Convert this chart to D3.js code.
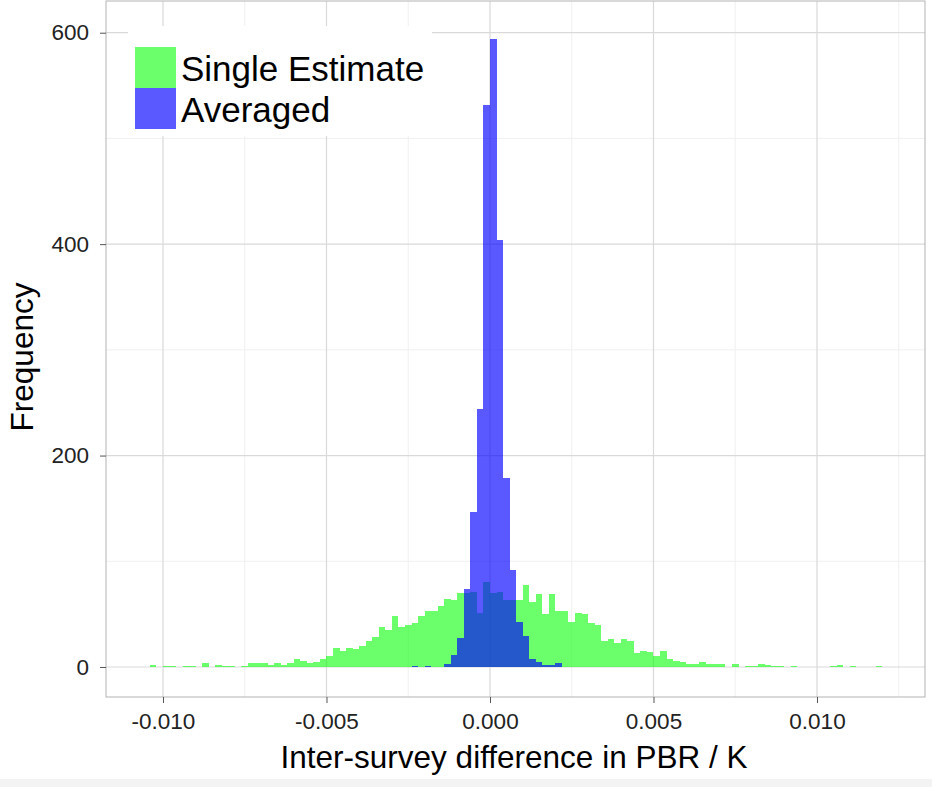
<!DOCTYPE html>
<html>
<head>
<meta charset="utf-8">
<script src="https://cdn.jsdelivr.net/npm/d3@7"></script>
<style>
  body { margin: 0; background: #fff; }
  svg text { font-family: "Liberation Sans", Arial, sans-serif; }
</style>
</head>
<body>
<svg id="chart" width="932" height="787"></svg>
<script>
// histogram bins, 0.0002 wide
var binWidth = 0.0002;

// single estimate, first bin starts at -0.0104
var singleStart = -0.0104;
var singleCounts = [
    2, 0, 1, 1, 0, 1, 1, 0, 4, 0, 2, 1, 1, 0, 1, 4, 4, 4, 2, 4,
    2, 4, 8, 6, 4, 5, 8, 10, 18, 15, 18, 17, 20, 25, 28, 38, 35, 48, 38, 40,
    42, 48, 53, 53, 58, 64, 63, 70, 70, 71, 51, 80, 70, 71, 63, 63, 63, 78, 61, 69,
    50, 69, 53, 53, 43, 51, 50, 42, 40, 25, 26, 23, 26, 25, 13, 15, 14, 10, 15, 8,
    6, 5, 3, 3, 5, 3, 3, 3, 0, 3, 0, 1, 1, 3, 2, 1, 1, 0, 1, 0,
    0, 0, 0, 0, 1, 2, 0, 1, 0, 0, 0, 1
];

// averaged, first bin starts at -0.0024
var avgStart = -0.0024;
var avgCounts = [
    1, 0, 1, 0, 0, 3, 11, 27, 74, 147, 244, 532, 594, 404, 179, 92, 43, 29, 8, 5,
    2, 2, 4
];

var xTicks = [-0.010, -0.005, 0.000, 0.005, 0.010];
var xMinor = [-0.0075, -0.0025, 0.0025, 0.0075, 0.0125];
var yTicks = [0, 200, 400, 600];
var yMinor = [100, 300, 500];

var seriesNames = ["Single Estimate", "Averaged"];
var seriesColors = ["#00ff00", "#0000ff"];
var seriesAlpha = [0.58, 0.65];

var svg = d3.select("#chart");
var margin = {top: 1, right: 7, bottom: 90, left: 106};
var width = +svg.attr("width") - margin.left - margin.right;
var height = +svg.attr("height") - margin.top - margin.bottom;

var x = d3.scaleLinear().domain([-0.011743, 0.013303]).range([0, width]);
var y = d3.scaleLinear().domain([-28.4, 630]).range([height, 0]);

var g = svg.append("g")
    .attr("transform", "translate(" + margin.left + "," + margin.top + ")");

// grid
g.selectAll(".xminor").data(xMinor).enter().append("line")
    .attr("x1", function(d) { return x(d); }).attr("x2", function(d) { return x(d); })
    .attr("y1", 0).attr("y2", height)
    .attr("stroke", "#f0f0f0").attr("stroke-width", 1);
g.selectAll(".yminor").data(yMinor).enter().append("line")
    .attr("y1", function(d) { return y(d); }).attr("y2", function(d) { return y(d); })
    .attr("x1", 0).attr("x2", width)
    .attr("stroke", "#f0f0f0").attr("stroke-width", 1);
g.selectAll(".xmajor").data(xTicks).enter().append("line")
    .attr("x1", function(d) { return x(d); }).attr("x2", function(d) { return x(d); })
    .attr("y1", 0).attr("y2", height)
    .attr("stroke", "#d9d9d9").attr("stroke-width", 1.2);
g.selectAll(".ymajor").data(yTicks).enter().append("line")
    .attr("y1", function(d) { return y(d); }).attr("y2", function(d) { return y(d); })
    .attr("x1", 0).attr("x2", width)
    .attr("stroke", "#d9d9d9").attr("stroke-width", 1.2);

function drawBars(counts, start, i) {
    g.append("g").selectAll("rect")
        .data(counts)
        .enter().append("rect")
        .attr("x", function(d, k) { return x(start + k * binWidth); })
        .attr("width", function(d, k) { return x(start + (k + 1) * binWidth) - x(start + k * binWidth); })
        .attr("y", function(d) { return y(d); })
        .attr("height", function(d) { return y(0) - y(d); })
        .attr("fill", seriesColors[i])
        .attr("fill-opacity", seriesAlpha[i])
        .attr("shape-rendering", "crispEdges");
}
drawBars(singleCounts, singleStart, 0);
drawBars(avgCounts, avgStart, 1);

// panel border
g.append("rect")
    .attr("width", width).attr("height", height)
    .attr("fill", "none").attr("stroke", "#b3b3b3").attr("stroke-width", 1);

// axes
var fmt = d3.format(".3f");
var xAxis = g.append("g")
    .attr("transform", "translate(0," + height + ")")
    .call(d3.axisBottom(x).tickValues(xTicks)
        .tickFormat(function(d) { return fmt(d).replace("\u2212", "-"); })
        .tickSize(6).tickPadding(6));
var yAxis = g.append("g")
    .call(d3.axisLeft(y).tickValues(yTicks).tickSize(6).tickPadding(11));
[xAxis, yAxis].forEach(function(a) {
    a.select(".domain").remove();
    a.selectAll(".tick line").attr("stroke", "#555");
    a.selectAll(".tick text").attr("fill", "#222").style("font-size", "22.5px");
});
xAxis.selectAll(".tick text").attr("dy", "0.9em");

// axis titles
svg.append("text")
    .attr("x", 514).attr("y", 768)
    .attr("text-anchor", "middle")
    .style("font-size", "31.5px")
    .text("Inter-survey difference in PBR / K");
svg.append("text")
    .attr("transform", "translate(33," + (margin.top + height / 2 + 8) + ") rotate(-90)")
    .attr("text-anchor", "middle")
    .style("font-size", "31.5px")
    .text("Frequency");

// legend
var legend = svg.append("g").attr("transform", "translate(128,26)");
legend.append("rect").attr("width", 304).attr("height", 110).attr("fill", "#fff");
seriesNames.forEach(function(name, i) {
    legend.append("rect")
        .attr("x", 7).attr("y", 21 + i * 41)
        .attr("width", 41).attr("height", 41)
        .attr("fill", seriesColors[i]).attr("fill-opacity", seriesAlpha[i]);
    legend.append("text")
        .attr("x", 53).attr("y", 42 + i * 41).attr("dy", "0.36em")
        .style("font-size", "35px")
        .text(name);
});

// faint strip at the bottom edge
svg.append("rect").attr("x", 0).attr("y", 779).attr("width", 932).attr("height", 8).attr("fill", "#f3f3f3");
</script>
</body>
</html>
